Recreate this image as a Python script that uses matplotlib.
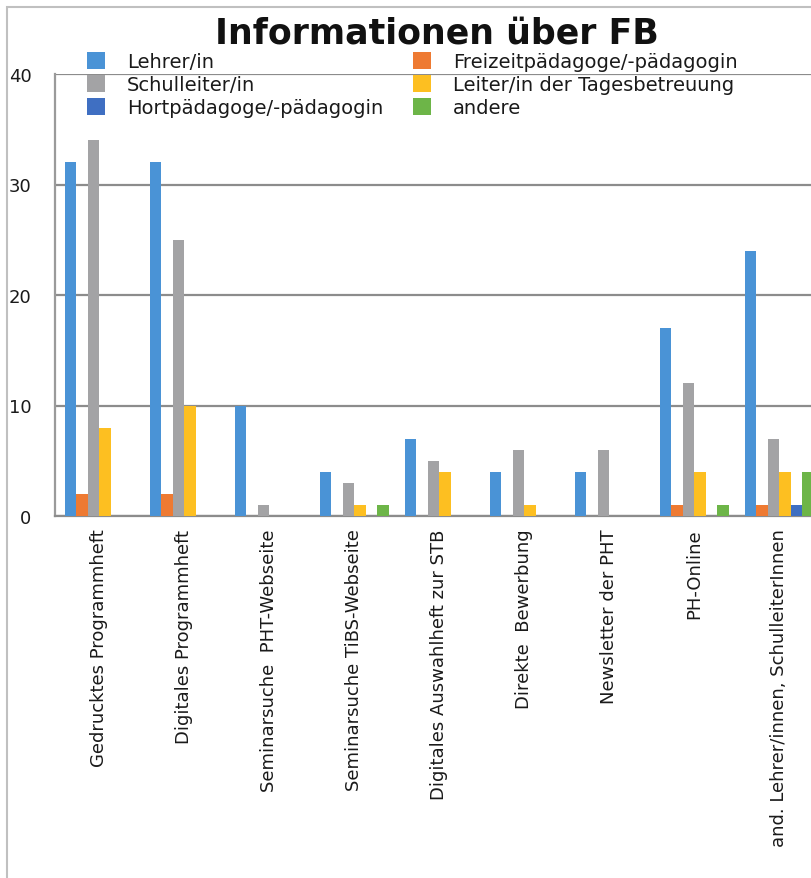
import matplotlib
matplotlib.use('Agg')
import matplotlib.pyplot as plt
import matplotlib.patches as mpatches
import numpy as np

categories = ['Gedrucktes Programmheft', 'Digitales Programmheft',
              'Seminarsuche  PHT-Webseite', 'Seminarsuche TiBS-Webseite',
              'Digitales Auswahlheft zur STB', 'Direkte  Bewerbung',
              'Newsletter der PHT', 'PH-Online',
              'and. Lehrer/innen, SchulleiterInnen']

lehrer = [32, 32, 10, 4, 7, 4, 4, 17, 24]
freizeit = [2, 2, 0, 0, 0, 0, 0, 1, 1]
schulleiter = [34, 25, 1, 3, 5, 6, 6, 12, 7]
tagesbetreuung = [8, 10, 0, 1, 4, 1, 0, 4, 4]
hort = [0, 0, 0, 0, 0, 0, 0, 0, 1]
andere = [0, 0, 0, 1, 0, 0, 0, 1, 4]

series = [lehrer, freizeit, schulleiter, tagesbetreuung, hort, andere]
names = ['Lehrer/in', 'Freizeitpädagoge/-pädagogin', 'Schulleiter/in',
         'Leiter/in der Tagesbetreuung', 'Hortpädagoge/-pädagogin', 'andere']
colors = ['#4a93d6', '#ee7a32', '#a3a3a5', '#fdbf21', '#3f6fc2', '#6db548']

W, H = 811, 879
fig = plt.figure(figsize=(W / 100, H / 100), dpi=100)
fig.patch.set_facecolor('white')

# outer frame (goes off the right/bottom edge like the cropped scan)
fig.patches.append(mpatches.Rectangle((7 / W, -0.1), 1.2, (H - 8) / H + 0.1,
                                      transform=fig.transFigure, fill=False,
                                      edgecolor='#c0c0c0', linewidth=1.5))

x0, x1 = -0.52, 8.5
left_px, bottom_px, top_px = 55, 517, 75
group_px = 85
ax = fig.add_axes([left_px / W, (H - bottom_px) / H,
                   (x1 - x0) * group_px / W, (bottom_px - top_px) / H])

x = np.arange(len(categories))
w = 0.135
for k, (vals, name, col) in enumerate(zip(series, names, colors)):
    ax.bar(x + (k - 2.5) * w, vals, width=w, color=col, label=name, zorder=3)

ax.set_xlim(x0, x1)
ax.set_ylim(0, 40)
ax.set_yticks([0, 10, 20, 30, 40])
ax.yaxis.grid(True, color='#8c8c8c', linewidth=1.6, zorder=0)
ax.set_axisbelow(True)
for s in ['top', 'right']:
    ax.spines[s].set_visible(False)
ax.spines['left'].set_color('#9a9a9a')
ax.spines['left'].set_linewidth(1.6)
ax.spines['bottom'].set_color('#8c8c8c')
ax.spines['bottom'].set_linewidth(1.6)

ax.set_xticks(x)
ax.set_xticklabels(categories, rotation=90, va='top', ha='center',
                   fontsize=13, color='#1a1a1a')
ax.tick_params(axis='x', length=0, pad=9)
ax.tick_params(axis='y', length=0, pad=17, labelsize=13, labelcolor='#1a1a1a')

fig.text(437 / W, (H - 43) / H, 'Informationen über FB', ha='center',
         va='baseline', fontsize=25, fontweight='bold', color='#111111')

# legend: row order Lehrer | Freizeit, Schulleiter | Leiter, Hort | andere
handles, labels = ax.get_legend_handles_labels()
order = [0, 2, 4, 1, 3, 5]
fig.legend([handles[i] for i in order], [labels[i] for i in order],
           ncol=2, frameon=False, loc='upper left',
           bbox_to_anchor=(87 / W, (H - 53) / H), borderaxespad=0,
           borderpad=0, fontsize=14, handlelength=0.95, handleheight=0.95,
           handletextpad=1.1, columnspacing=1.53, labelspacing=0.2,
           labelcolor='#1a1a1a')

fig.savefig('out.png', dpi=100)
